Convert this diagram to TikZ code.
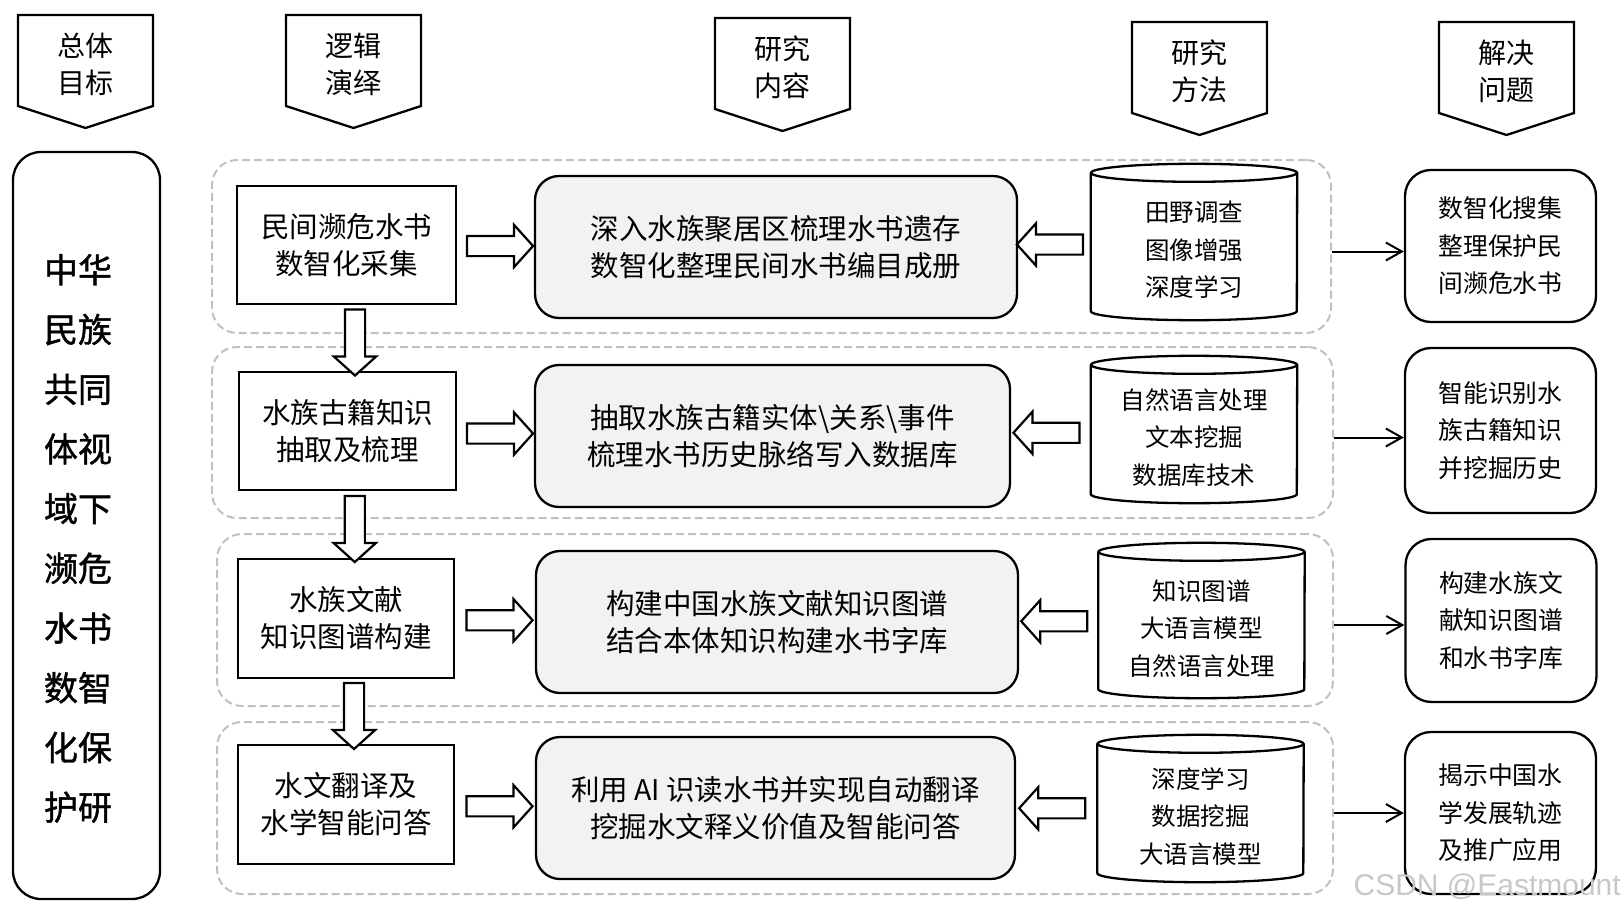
\documentclass[tikz,border=0pt]{standalone}
\usepackage{fontspec}
\setmainfont{Noto Sans CJK SC}
\newfontfamily\goalfont{Noto Sans CJK SC}[FakeBold=1.2]
\newfontfamily\markfont{Liberation Sans}
\usetikzlibrary{positioning,calc,shapes.arrows,arrows.meta}
\definecolor{boxgray}{HTML}{F2F2F2}
\definecolor{dashgray}{HTML}{C0C0C0}
\definecolor{markgray}{HTML}{C8C8C8}
\tikzset{
  hdr/.style={draw, line width=2.3pt},
  hdrtext/.style={align=center, inner sep=0pt, font=\fontsize{28}{37}\selectfont},
  goalbox/.style={draw, line width=2.3pt, rounded corners=28pt, minimum width=147pt, minimum height=747pt},
  goaltext/.style={align=center, inner sep=0pt, font=\goalfont\fontsize{34}{59.7}\selectfont},
  grp/.style={draw=dashgray, line width=2pt, dash pattern=on 8pt off 4pt, rounded corners=25pt},
  lbox/.style={draw, line width=2.3pt, align=center, inner sep=0pt, font=\fontsize{28.5}{37}\selectfont},
  mbox/.style={draw, line width=2.3pt, rounded corners=24pt, fill=boxgray, align=center, inner sep=0pt, font=\fontsize{28.5}{37}\selectfont},
  cyl/.style={align=center, inner sep=0pt, font=\fontsize{24.5}{37.5}\selectfont},
  cylline/.style={line width=2.3pt},
  rbox/.style={draw, line width=2.3pt, rounded corners=26pt, align=center, inner sep=0pt, minimum width=191pt, font=\fontsize{24.8}{37.5}\selectfont},
  barr/.style={single arrow, draw, line width=2.2pt, fill=white, inner xsep=0pt, inner ysep=9pt, minimum height=66pt, minimum width=40pt, single arrow head extend=11pt, single arrow tip angle=96},
  thinarr/.style={-{Straight Barb[length=16pt,width=18pt]}, line width=2pt}
}
\begin{document}
\begin{tikzpicture}[x=1pt,y=1pt]
\useasboundingbox (0,0) rectangle (1624,-915);

% column headers
\foreach \n/\cx/\ty/\ta/\tb in {1/85.5/15/总体/目标, 2/353.5/15/逻辑/演绎, 3/782.5/18/研究/内容, 4/1199.5/22/研究/方法, 5/1506.5/22/解决/问题}{
  \draw[hdr] (\cx-67.5,-\ty) -- (\cx+67.5,-\ty) -- (\cx+67.5,-\ty-91) -- (\cx,-\ty-113) -- (\cx-67.5,-\ty-91) -- cycle;
  \node[hdrtext] (h\n) at (\cx,-\ty-49) {\ta\\\tb};
}

% overall goal
\node[goalbox] (goal) at (86.5,-525.5) {};
\node[goaltext] (goaltxt) at (78,-538.5) {中华\\民族\\共同\\体视\\域下\\濒危\\水书\\数智\\化保\\护研};

% dashed rows
\node[grp, minimum width=1119pt, minimum height=173pt] (g1) at (771.5,-246.5) {};
\node[grp, minimum width=1121pt, minimum height=171pt] (g2) at (772.5,-432.5) {};
\node[grp, minimum width=1116pt, minimum height=172pt] (g3) at (775,-620) {};
\node[grp, minimum width=1116pt, minimum height=172pt] (g4) at (775,-808) {};

% row 1
\node[lbox, minimum width=219pt, minimum height=118pt] (l1) at (346.5,-245) {民间濒危水书\\数智化采集};
\node[mbox, minimum width=482pt, minimum height=142pt] (m1) at (776,-247) {深入水族聚居区梳理水书遗存\\数智化整理民间水书编目成册};
\node[cyl, minimum width=206pt, minimum height=138pt] (c1) at (1194,-250) {田野调查\\图像增强\\深度学习};
\node[rbox, minimum height=152pt] (r1) at (1500.5,-246) {数智化搜集\\整理保护民\\间濒危水书};

% row 2
\node[lbox, minimum width=217pt, minimum height=118pt] (l2) at (347.5,-431) {水族古籍知识\\抽取及梳理};
\node[mbox, minimum width=475pt, minimum height=142pt] (m2) at (772.5,-436) {抽取水族古籍实体\textbackslash 关系\textbackslash 事件\\梳理水书历史脉络写入数据库};
\node[cyl, minimum width=206pt, minimum height=129pt] (c2) at (1194,-437.5) {自然语言处理\\文本挖掘\\数据库技术};
\node[rbox, minimum height=165pt] (r2) at (1500.5,-430.5) {智能识别水\\族古籍知识\\并挖掘历史};

% row 3
\node[lbox, minimum width=216pt, minimum height=119pt] (l3) at (346,-618.5) {水族文献\\知识图谱构建};
\node[mbox, minimum width=482pt, minimum height=142pt] (m3) at (777,-622) {构建中国水族文献知识图谱\\结合本体知识构建水书字库};
\node[cyl, minimum width=206pt, minimum height=137pt] (c3) at (1201.5,-628.5) {知识图谱\\大语言模型\\自然语言处理};
\node[rbox, minimum height=163pt] (r3) at (1501,-620.5) {构建水族文\\献知识图谱\\和水书字库};

% row 4
\node[lbox, minimum width=216pt, minimum height=119pt] (l4) at (346,-804.5) {水文翻译及\\水学智能问答};
\node[mbox, minimum width=479pt, minimum height=142pt] (m4) at (775.5,-808) {利用 AI 识读水书并实现自动翻译\\挖掘水文释义价值及智能问答};
\node[cyl, minimum width=206pt, minimum height=129pt] (c4) at (1200.5,-816.5) {深度学习\\数据挖掘\\大语言模型};
\node[rbox, minimum height=162pt] (r4) at (1500.5,-813) {揭示中国水\\学发展轨迹\\及推广应用};

% cylinders (text sits a little below the middle)
\foreach \c in {c1,c2,c3,c4}{
  \draw[cylline] ([yshift=8pt]\c.north west) -- ([yshift=8pt]\c.south west) arc[start angle=180, end angle=360, x radius=103, y radius=9] -- ([yshift=8pt]\c.north east);
  \draw[cylline] ([yshift=8pt]\c.north) ellipse[x radius=103, y radius=9];
}

% block arrows
\foreach \i in {1,2,3,4}{
  \node[barr] (a\i) at ($(l\i.east)!.5!(m\i.west)$) {};
  \node[barr, rotate=180] (b\i) at ($(m\i.east)!.5!([yshift=8pt]c\i.west)$) {};
  \draw[thinarr] ([yshift=-5pt]g\i.east) -- ([yshift=-5pt]g\i.east -| r\i.west);
}
\foreach \i/\j in {1/2,2/3,3/4}{
  \node[barr, rotate=-90] (d\i) at ($(l\i.south)!.5!(l\j.north)+(8,0)$) {};
}

\node[anchor=east, inner sep=0pt, text=markgray, font=\markfont\fontsize{30}{30}\selectfont] (mark) at (1621,-887) {CSDN @Eastmount};
\end{tikzpicture}
\end{document}
